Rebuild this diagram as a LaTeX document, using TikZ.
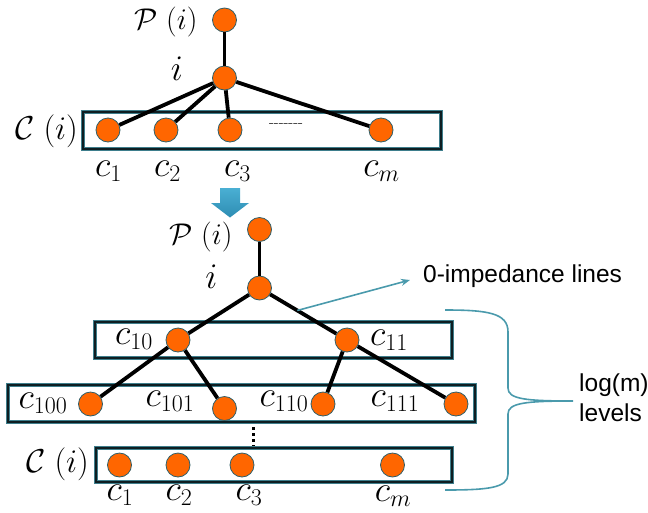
\RequirePackage{fix-cm}
\documentclass[tikz,border=0pt]{standalone}
\usepackage{fontspec}
\newfontfamily\sansf{Liberation Sans}
\usetikzlibrary{arrows.meta}
\newcommand\mysub[1]{_{\mbox{\fontsize{24}{28}\selectfont #1}}}
\definecolor{nodeorange}{HTML}{FF6600}
\definecolor{nodeedge}{HTML}{2F5F6A}
\definecolor{boxteal}{HTML}{3E7E8C}
\definecolor{boxdark}{HTML}{0E1E22}
\definecolor{tealline}{HTML}{4A9AAC}
\definecolor{arrowtop}{HTML}{4AAFD3}
\definecolor{arrowbot}{HTML}{2E8DB3}
\begin{document}
\begin{tikzpicture}[x=1pt,y=-1pt,
  dot/.style={circle, fill=nodeorange, draw=nodeedge, line width=0.8pt, minimum size=24pt, inner sep=0pt},
  lab/.style={inner sep=0pt, font=\fontsize{36}{42}\selectfont},
  ilab/.style={inner sep=0pt, font=\fontsize{36}{42}\selectfont},
  plab/.style={inner sep=0pt, font=\fontsize{30}{36}\selectfont},
  clab/.style={inner sep=0pt, font=\fontsize{33}{40}\selectfont},
  txt/.style={inner sep=0pt, font=\sansf\fontsize{24.5}{30}\selectfont},
  edge/.style={line width=3.8pt, black},
  rowbox/.style={draw=boxteal, line width=4pt, postaction={draw=boxdark, line width=2.2pt}},
  thin teal/.style={draw=tealline, line width=1.6pt}]
\useasboundingbox (0,0) rectangle (648,512);

% ---------- top tree ----------
\draw[rowbox] (83,112) rectangle (441,149);
\node[dot] (tP) at (224.5,20) {};
\node[dot] (ti) at (224.5,78) {};
\node[dot] (t1) at (108,130) {};
\node[dot] (t2) at (166,130) {};
\node[dot] (t3) at (230,130) {};
\node[dot] (tm) at (381,130) {};
\draw[edge] (tP) -- (ti);
\draw[edge] (ti) -- (t1);
\draw[edge] (ti) -- (t2);
\draw[edge] (ti) -- (t3);
\draw[edge] (ti) -- (tm);
\node[plab] (tPl) at (166,22) {$\mathcal{P}\;(i)$};
\node[ilab] (til) at (177,68.5) {$i$};
\node[clab] (tCl) at (46.5,131.5) {$\mathcal{C}\;(i)$};
\node[inner sep=0pt, font=\fontsize{16}{18}\selectfont] (tdots) at (286,126) {-\kern0pt-\kern0pt-\kern0pt-\kern0pt-\kern0pt-\kern0pt-};
\node[lab, anchor=base] (t1l) at (108.5,176) {$c\mysub{1}$};
\node[lab, anchor=base] (t2l) at (167.5,176) {$c\mysub{2}$};
\node[lab, anchor=base] (t3l) at (237.5,176) {$c\mysub{3}$};
\node[lab, anchor=base] (tml) at (381.5,176) {$c\mysub{$m$}$};

% ---------- block arrow ----------
\shade[top color=arrowtop, bottom color=arrowbot]
  (220,188) -- (240,188) -- (240,203) -- (249,203) -- (230,217.5) -- (211,203) -- (220,203) -- cycle;

% ---------- bottom tree ----------
\draw[rowbox] (95,322) rectangle (452,358);
\draw[rowbox] (8,385) rectangle (475,422);
\draw[rowbox] (96,448) rectangle (452,482);

\node[dot] (bP) at (259.5,229.5) {};
\node[dot] (bi) at (259.5,288) {};
\node[dot] (c10) at (178,340) {};
\node[dot] (c11) at (347,340) {};
\node[dot] (c100) at (90.5,404) {};
\node[dot] (c101) at (224.5,408.5) {};
\node[dot] (c110) at (323,404) {};
\node[dot] (c111) at (456,404) {};
\node[dot] (b1) at (119.5,465) {};
\node[dot] (b2) at (178,465) {};
\node[dot] (b3) at (242,465) {};
\node[dot] (bm) at (392.5,465) {};

\draw[edge] (bP) -- (bi);
\draw[edge] (bi) -- (c10);
\draw[edge] (bi) -- (c11);
\draw[edge] (c10) -- (c100);
\draw[edge] (c10) -- (c101);
\draw[edge] (c11) -- (c110);
\draw[edge] (c11) -- (c111);

\coordinate (vd1) at (253,427);
\coordinate (vd2) at (253,446);
\draw[black, line width=3pt, dash pattern=on 3pt off 3pt] (vd1) -- (vd2);

\node[plab] (bPl) at (201,236.5) {$\mathcal{P}\;(i)$};
\node[ilab] (bil) at (211.5,276.5) {$i$};
\node[lab, anchor=base] (l10) at (134,344) {$c\mysub{10}$};
\node[lab, anchor=base] (l11) at (389,345) {$c\mysub{11}$};
\node[lab, anchor=base] (l100) at (43,408) {$c\mysub{100}$};
\node[lab, anchor=base] (l101) at (170,406) {$c\mysub{101}$};
\node[lab, anchor=base] (l110) at (284,406) {$c\mysub{110}$};
\node[lab, anchor=base] (l111) at (395,406) {$c\mysub{111}$};
\node[clab] (bCl) at (57.5,464) {$\mathcal{C}\;(i)$};
\node[lab, anchor=base] (b1l) at (120,500) {$c\mysub{1}$};
\node[lab, anchor=base] (b2l) at (179,500) {$c\mysub{2}$};
\node[lab, anchor=base] (b3l) at (249,500) {$c\mysub{3}$};
\node[lab, anchor=base] (bml) at (393,501) {$c\mysub{$m$}$};

% ---------- annotations ----------
\path (bi) -- (c11) coordinate[pos=0.41] (zs);
\node[txt, anchor=base west] (zlab) at (423,282) {0-impedance lines};
\coordinate (zt) at (410,280);
\draw[thin teal, -{Stealth[length=9pt,width=7pt]}] (zs) -- (zt);

\draw[thin teal] (445,310) .. controls (488,310) and (508,313) .. (508,332)
  -- (508,388) .. controls (508,399) and (525,401) .. (573,401)
  .. controls (525,401) and (508,403) .. (508,414)
  -- (508,474) .. controls (508,488) and (488,490) .. (445,490);
\node[txt, anchor=base west] (lg1) at (579,391) {log(m)};
\node[txt, anchor=base west] (lg2) at (579,421) {levels};
\end{tikzpicture}
\end{document}
